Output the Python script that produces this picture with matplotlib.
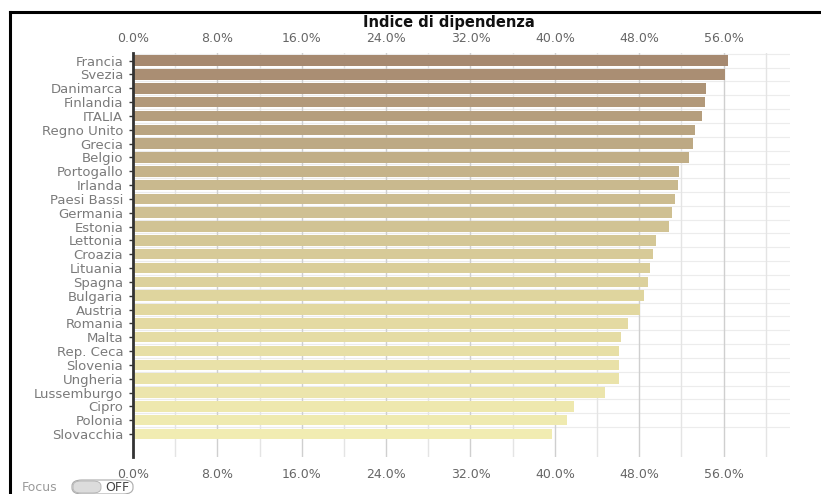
import numpy as np
import matplotlib
matplotlib.use('Agg')
import matplotlib.pyplot as plt
from matplotlib.colors import LinearSegmentedColormap
from matplotlib.lines import Line2D
from matplotlib.patches import FancyBboxPatch
from matplotlib.ticker import MultipleLocator, FixedLocator, FuncFormatter

countries = ['Francia', 'Svezia', 'Danimarca', 'Finlandia', 'ITALIA', 'Regno Unito',
             'Grecia', 'Belgio', 'Portogallo', 'Irlanda', 'Paesi Bassi', 'Germania',
             'Estonia', 'Lettonia', 'Croazia', 'Lituania', 'Spagna', 'Bulgaria',
             'Austria', 'Romania', 'Malta', 'Rep. Ceca', 'Slovenia', 'Ungheria',
             'Lussemburgo', 'Cipro', 'Polonia', 'Slovacchia']
dependency = [56.4, 56.1, 54.3, 54.2, 54.0, 53.3, 53.1, 52.7, 51.8, 51.7, 51.4, 51.1,
              50.8, 49.6, 49.3, 49.0, 48.8, 48.5, 48.1, 46.9, 46.3, 46.1, 46.1, 46.1,
              44.8, 41.8, 41.2, 39.7]
pct_ticks = [0, 8, 16, 24, 32, 40, 48, 56]
title = 'Indice di dipendenza'

W, H = 821, 494
fig = plt.figure(figsize=(W / 100, H / 100), dpi=100)
fig.patch.set_facecolor('white')

# plot area in pixels: x 133..790, y 53..457
left, right, top, bottom = 133, 790, 53, 457
ax = fig.add_axes([left / W, 1 - bottom / H, (right - left) / W, (bottom - top) / H])

n = len(countries)
y = np.arange(n)
cmap = LinearSegmentedColormap.from_list('dep', ['#a68970', '#c9b98e', '#e2d8a0', '#f1ecb2'])
colors = [cmap(i / (n - 1)) for i in range(n)]

ax.barh(y, dependency, height=0.76, color=colors, zorder=2)

ax.set_xlim(0, 62.3)
ax.set_ylim(n + 0.66, -0.55)

pct = FuncFormatter(lambda v, p: f'{v:.1f}%')

# vertical grid: every 4%, labels every 8%
ax.xaxis.set_major_locator(FixedLocator(pct_ticks))
ax.xaxis.set_minor_locator(MultipleLocator(4))
ax.xaxis.set_major_formatter(pct)
ax.grid(axis='x', which='major', color='#cfcfcf', lw=1.0, zorder=0)
ax.grid(axis='x', which='minor', color='#e4e4e4', lw=1.0, zorder=0)

# faint separators between rows
for yy in np.arange(n) - 0.5:
    ax.axhline(yy, color='#ececec', lw=0.8, zorder=1)

ax.set_yticks(y)
ax.set_yticklabels(countries)
ax.tick_params(axis='y', length=3, width=1, color='#333333', pad=4,
               labelsize=9.5, labelcolor='#7a7a7a')
ax.tick_params(axis='x', which='both', length=0, labelsize=9, labelcolor='#666666', pad=8)

# same percentage scale repeated above the bars
top_ax = ax.secondary_xaxis('top')
top_ax.xaxis.set_major_locator(FixedLocator(pct_ticks))
top_ax.xaxis.set_major_formatter(pct)
top_ax.tick_params(axis='x', length=0, labelsize=9, labelcolor='#666666', pad=6)
top_ax.spines['top'].set_visible(False)

for s in ['top', 'right', 'bottom']:
    ax.spines[s].set_visible(False)
ax.spines['left'].set_color('#333333')
ax.spines['left'].set_linewidth(2)
ax.set_facecolor('white')

fig.text(449 / W, 1 - 22 / H, title, ha='center', va='center',
         fontsize=10.5, fontweight='bold', color='#111111')

# outer frame (top and left edges)
fig.add_artist(Line2D([10 / W, 1], [1 - 12 / H, 1 - 12 / H], color='black', lw=2.2))
fig.add_artist(Line2D([10 / W, 10 / W], [0, 1 - 12 / H], color='black', lw=2.2))

# "Focus" toggle
fig.text(22 / W, 1 - 487 / H, 'Focus', ha='left', va='center', fontsize=9, color='#9a9a9a')
fig.add_artist(FancyBboxPatch((72 / W, 1 - 494 / H), 61 / W, 14 / H,
                              boxstyle='round,pad=0,rounding_size=0.012',
                              transform=fig.transFigure, facecolor='white',
                              edgecolor='#aaaaaa', lw=0.8))
fig.add_artist(FancyBboxPatch((73 / W, 1 - 493 / H), 28 / W, 12 / H,
                              boxstyle='round,pad=0,rounding_size=0.01',
                              transform=fig.transFigure, facecolor='#dcdcdc',
                              edgecolor='#b0b0b0', lw=0.6))
fig.text(117 / W, 1 - 487 / H, 'OFF', ha='center', va='center', fontsize=9, color='#444444')

fig.savefig('out.png', dpi=100)
